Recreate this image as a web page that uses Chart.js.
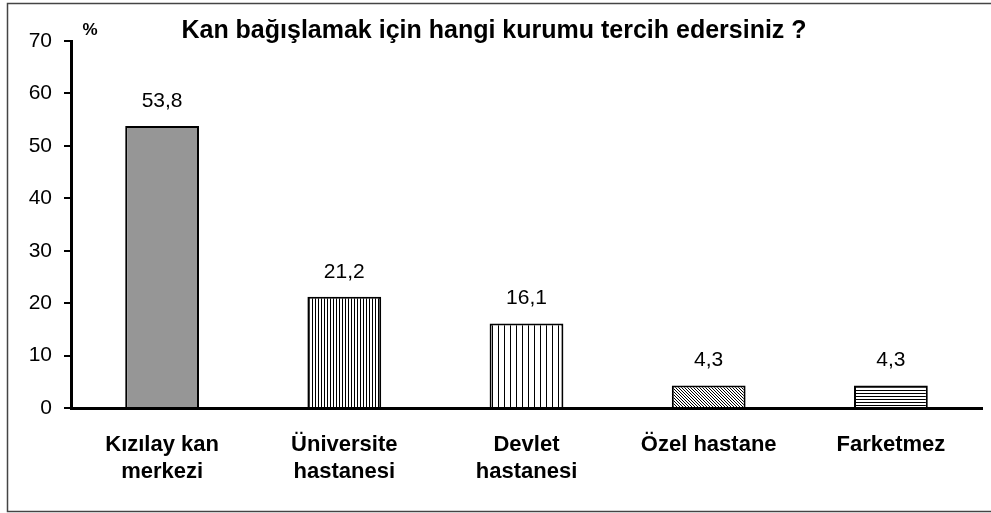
<!DOCTYPE html>
<html>
<head>
<meta charset="utf-8">
<script src="https://cdn.jsdelivr.net/npm/chart.js@4"></script>
<style>
  html, body { margin: 0; padding: 0; background: #fff; }
  #wrap { width: 991px; height: 513px; }
</style>
</head>
<body>
<div id="wrap"><canvas id="myChart" width="991" height="513"></canvas></div>
<script>
const labels = [['Kızılay kan', 'merkezi'], ['Üniversite', 'hastanesi'], ['Devlet', 'hastanesi'], 'Özel hastane', 'Farketmez'];
const values = [53.8, 21.2, 16.1, 4.3, 4.3];
const yTicks = [0, 10, 20, 30, 40, 50, 60, 70];
const title = 'Kan bağışlamak için hangi kurumu tercih edersiniz ?';

function tile(w, h, draw) {
    const c = document.createElement('canvas');
    c.width = w; c.height = h;
    const g = c.getContext('2d');
    g.fillStyle = '#fff';
    g.fillRect(0, 0, w, h);
    g.fillStyle = '#000';
    draw(g);
    return document.createElement('canvas').getContext('2d').createPattern(c, 'repeat');
}

const fills = [
    '#969696',
    tile(3, 3, g => g.fillRect(0, 0, 1, 3)),
    tile(6, 6, g => g.fillRect(0, 0, 1, 6)),
    tile(3, 3, g => { for (let i = 0; i < 3; i++) g.fillRect(i, i, 1, 1); }),
    tile(3, 3, g => g.fillRect(0, 0, 3, 1))
];

const frame = {
    id: 'frame',
    beforeDraw(chart) {
        const c = chart.ctx;
        c.save();
        c.fillStyle = '#fff';
        c.fillRect(0, 0, chart.width, chart.height);
        c.strokeStyle = '#444';
        c.lineWidth = 1.5;
        c.strokeRect(7.5, 3.5, 1000, 508);
        c.restore();
    },
    afterDraw(chart) {
        const c = chart.ctx;
        c.save();
        c.fillStyle = '#000';
        c.textAlign = 'center';
        c.textBaseline = 'middle';
        c.font = 'bold 25px "Liberation Sans", Arial, sans-serif';
        c.fillText(title, 494, 31);
        c.font = 'bold 17px "Liberation Sans", Arial, sans-serif';
        c.fillText('%', 90, 30);
        c.font = '21px "Liberation Sans", Arial, sans-serif';
        const meta = chart.getDatasetMeta(0);
        meta.data.forEach((bar, i) => {
            c.fillText(String(values[i]).replace('.', ','), bar.x, bar.y - 25);
        });
        c.restore();
    }
};

new Chart(document.getElementById('myChart'), {
    type: 'bar',
    data: {
        labels: labels,
        datasets: [{
            data: values,
            backgroundColor: fills,
            borderColor: '#000',
            borderWidth: 2,
            borderSkipped: 'bottom',
            categoryPercentage: 1,
            barPercentage: 0.405
        }]
    },
    options: {
        responsive: false,
        animation: false,
        devicePixelRatio: 1,
        layout: { padding: { top: 41, right: 9, bottom: 5, left: 0 } },
        plugins: { legend: { display: false }, tooltip: { enabled: false } },
        scales: {
            x: {
                grid: { display: false, drawTicks: false },
                border: { display: true, color: '#000', width: 3 },
                ticks: {
                    color: '#000',
                    maxRotation: 0,
                    autoSkip: false,
                    padding: 23,
                    font: { family: '"Liberation Sans", Arial, sans-serif', size: 22, weight: 'bold', lineHeight: 1.25 }
                },
                afterFit(scale) { scale.height = 100; }
            },
            y: {
                min: 0,
                max: 70,
                afterBuildTicks(scale) { scale.ticks = yTicks.map(v => ({ value: v })); },
                grid: { drawOnChartArea: false, color: '#000', lineWidth: 2, tickLength: 7 },
                border: { display: true, color: '#000', width: 3 },
                ticks: {
                    color: '#000',
                    padding: 12,
                    font: { family: '"Liberation Sans", Arial, sans-serif', size: 21 }
                },
                afterFit(scale) { scale.width = 71; }
            }
        }
    },
    plugins: [frame]
});
</script>
</body>
</html>
